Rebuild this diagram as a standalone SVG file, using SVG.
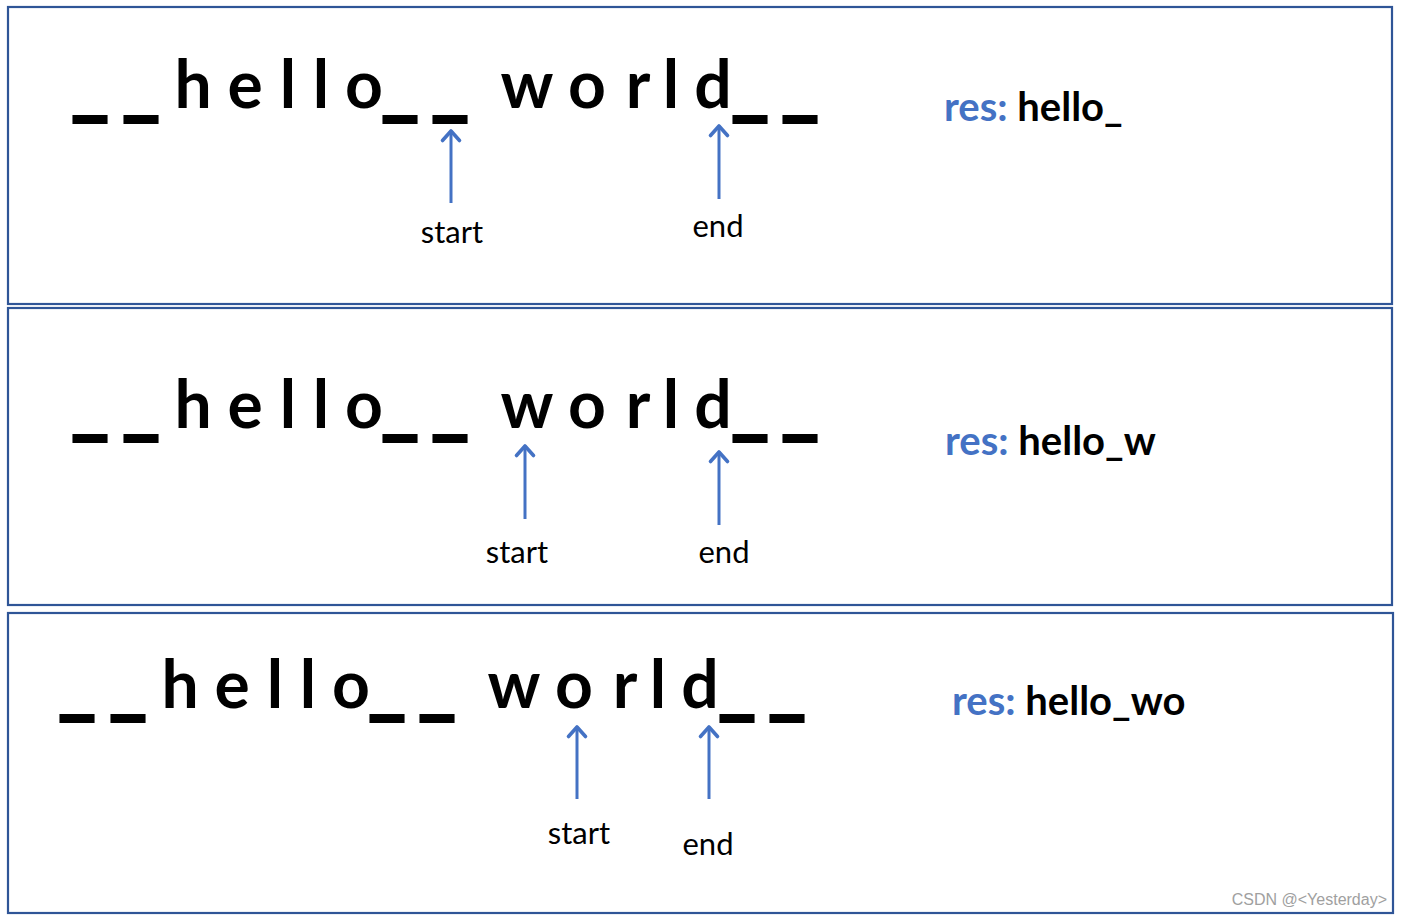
<svg xmlns="http://www.w3.org/2000/svg" width="1403" height="918" viewBox="0 0 1403 918">
<style>
.panel{fill:#fff;stroke:#2F5597;stroke-width:2.2}
.big{font-family:Lato,"Open Sans",sans-serif;font-weight:bold;font-size:66px;fill:#000;text-anchor:middle}
.us{font-family:Lato,"Open Sans",sans-serif;font-weight:bold;font-size:66px;fill:#000;text-anchor:middle}
.lbl{font-family:Lato,"Open Sans",sans-serif;font-size:31px;fill:#000;text-anchor:middle}
.res{font-family:Lato,"Open Sans",sans-serif;font-weight:bold;font-size:40px;fill:#000}
.blue{fill:#4472C4}
.arr{stroke:#4472C4;stroke-width:3;fill:none;marker-end:url(#ah)}
.wm{font-family:"Liberation Sans",Arial,sans-serif;font-size:16px;fill:#A0A0A0;text-anchor:end}
</style>
<defs>
<marker id="ah" markerUnits="userSpaceOnUse" viewBox="-14 -14 28 28" refX="0" refY="0" markerWidth="28" markerHeight="28" orient="auto">
<polyline points="-9.5,-8.5 0,0 -9.5,8.5" fill="none" stroke="#4472C4" stroke-width="3.6" stroke-linecap="round" stroke-linejoin="round"/>
</marker>
</defs>
<rect width="1403" height="918" fill="#fff"/>

<g id="panel1">
<rect class="panel" x="8" y="7" width="1384" height="297"/>
<text class="big" x="193 245 288 321 364 527 587 638 671 713" y="108">helloworld</text>
<text class="us" transform="scale(1.35,1.7)" x="66.67 104.44 296.30 333.33 555.56 592.59" y="62.65">______</text>
<text class="res" x="944" y="121"><tspan class="blue">res:</tspan> hello_</text>
<text class="lbl" x="452" y="243">start</text>
<text class="lbl" x="718" y="237">end</text>
</g>

<g id="panel2">
<rect class="panel" x="8" y="308" width="1384" height="297"/>
<text class="big" x="193 245 288 321 364 527 587 638 671 713" y="428">helloworld</text>
<text class="us" transform="scale(1.35,1.7)" x="66.67 104.44 296.30 333.33 555.56 592.59" y="250.88">______</text>
<text class="res" x="945" y="455"><tspan class="blue">res:</tspan> hello_w</text>
<text class="lbl" x="517" y="563">start</text>
<text class="lbl" x="724" y="563">end</text>
</g>

<g id="panel3">
<rect class="panel" x="8" y="613" width="1385" height="300"/>
<text class="big" x="180 232 275 308 351 514 574 625 658 700" y="708">helloworld</text>
<text class="us" transform="scale(1.35,1.7)" x="57.04 94.81 286.67 323.70 545.93 582.96" y="415.59">______</text>
<text class="res" x="952" y="715"><tspan class="blue">res:</tspan> hello_wo</text>
<text class="lbl" x="579" y="844">start</text>
<text class="lbl" x="708" y="855">end</text>
<text class="wm" x="1387" y="905">CSDN @&lt;Yesterday&gt;</text>
</g>

<g id="connectors">
<line class="arr" x1="451" y1="203" x2="451" y2="131"/>
<line class="arr" x1="719" y1="199" x2="719" y2="126"/>
<line class="arr" x1="525" y1="519" x2="525" y2="446"/>
<line class="arr" x1="719" y1="525" x2="719" y2="452"/>
<line class="arr" x1="577" y1="799" x2="577" y2="727"/>
<line class="arr" x1="709" y1="799" x2="709" y2="727"/>
</g>
</svg>
